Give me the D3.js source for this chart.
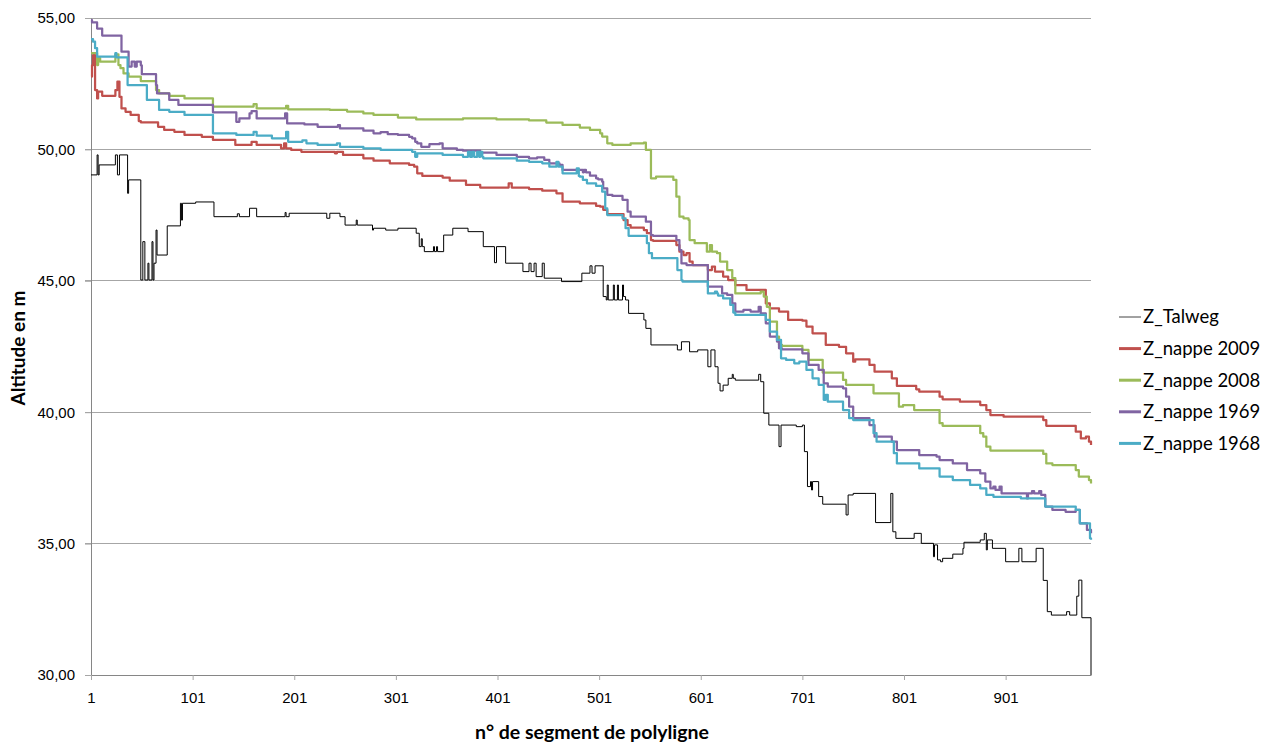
<!DOCTYPE html>
<html>
<head>
<meta charset="utf-8">
<script src="https://cdn.jsdelivr.net/npm/d3@7"></script>
<style>
  body { margin: 0; background: #fff; }
  svg { display: block; font-family: Lato, "Open Sans", sans-serif; }
  .tick text { fill: #000; }
</style>
</head>
<body>
<svg width="1276" height="744"></svg>
<script>
// values: [n° de segment, altitude] where the profile changes level
const talweg = [[1,49.03],[7,49.79],[8,49.03],[9,49.41],[25,49.79],[27,49.03],[29,49.79],[37,48.33],[38,48.84],[50,45.03],[52,46.49],[54,45.03],[57,45.67],[58,45.03],[61,46.49],[62,45.03],[63,45.67],[65,46.93],[66,45.98],[76,47.09],[89,47.95],[90,47.31],[91,47.95],[104,48.0],[122,47.44],[145,47.55],[147,47.44],[157,47.76],[164,47.44],[192,47.6],[193,47.44],[196,47.57],[233,47.38],[236,47.57],[246,47.44],[251,47.12],[262,47.31],[263,47.12],[278,46.93],[279,47.0],[291,46.93],[303,47.0],[321,46.81],[324,46.30],[326,46.6],[327,46.30],[329,46.11],[338,46.30],[339,46.11],[341,46.30],[342,46.11],[348,46.74],[357,47.0],[372,46.87],[387,46.30],[398,45.69],[400,46.30],[409,45.67],[426,45.35],[432,45.67],[434,45.35],[437,45.67],[439,45.16],[445,45.67],[447,45.10],[464,44.97],[484,45.29],[492,45.57],[494,45.29],[497,45.57],[505,44.40],[508,44.27],[509,44.84],[510,44.27],[515,44.84],[516,44.27],[519,44.84],[520,44.27],[524,44.84],[525,44.4],[527,44.27],[530,43.76],[545,43.51],[547,43.19],[552,42.56],[578,42.37],[582,42.68],[590,42.30],[598,42.37],[608,41.73],[611,42.37],[615,41.73],[618,41.10],[620,40.81],[623,41.03],[628,41.29],[632,41.44],[633,41.29],[635,41.22],[658,41.44],[660,41.16],[663,39.96],[668,39.51],[678,38.69],[680,39.51],[695,39.45],[701,39.51],[703,38.5],[706,37.17],[709,37.36],[710,37.04],[711,37.36],[717,36.79],[721,36.50],[744,36.09],[746,36.85],[751,36.91],[773,35.80],[788,36.91],[790,35.45],[793,35.20],[811,35.39],[818,35.01],[830,34.50],[831,34.95],[834,34.38],[837,34.31],[839,34.44],[849,34.60],[859,34.82],[860,35.05],[876,35.14],[880,35.39],[882,34.76],[883,35.14],[888,34.82],[901,34.31],[914,34.82],[917,34.31],[931,34.82],[938,33.6],[942,32.41],[946,32.28],[961,32.41],[964,32.28],[971,33.0],[973,33.61],[976,32.18],[985,30.0]];

const nappe2009 = [[1,52.77],[2,53.2],[3,53.59],[5,52.26],[7,51.94],[8,52.20],[12,52.04],[25,52.26],[27,52.58],[29,52.0],[31,51.56],[35,51.43],[40,51.31],[48,51.08],[50,51.03],[67,50.86],[73,50.74],[83,50.67],[93,50.55],[110,50.48],[121,50.36],[143,50.17],[159,50.29],[164,50.17],[188,50.04],[191,50.23],[193,50.04],[198,49.98],[208,49.91],[241,49.85],[243,49.91],[249,49.79],[269,49.66],[279,49.57],[295,49.47],[314,49.41],[319,49.34],[322,49.09],[327,48.99],[347,48.93],[354,48.81],[370,48.65],[384,48.55],[412,48.71],[415,48.55],[432,48.49],[445,48.43],[459,48.33],[465,48.01],[482,47.95],[498,47.85],[502,47.82],[505,47.70],[509,47.54],[525,47.31],[529,47.12],[532,47.02],[545,46.93],[548,46.81],[552,46.55],[554,46.52],[577,46.36],[580,46.11],[584,45.98],[587,46.05],[590,45.73],[593,45.60],[608,45.41],[612,45.54],[615,45.35],[623,45.16],[628,45.03],[635,44.84],[646,44.65],[665,44.14],[669,43.95],[678,43.83],[687,43.51],[701,43.48],[705,43.26],[711,43.0],[724,42.56],[737,42.49],[744,42.24],[751,41.92],[753,42.01],[767,41.80],[772,41.54],[789,41.29],[794,41.0],[813,40.87],[816,40.78],[836,40.59],[839,40.49],[856,40.40],[876,40.27],[882,40.08],[886,39.89],[899,39.83],[938,39.70],[941,39.48],[970,39.26],[975,39.0],[980,39.07],[983,38.88],[985,38.75]];

const nappe2008 = [[1,53.66],[7,53.21],[8,53.47],[10,53.34],[25,53.62],[28,53.21],[30,53.09],[33,52.89],[38,52.77],[50,52.60],[65,52.26],[68,52.13],[78,52.04],[93,51.94],[121,51.63],[161,51.72],[164,51.56],[193,51.66],[195,51.52],[236,51.50],[253,51.44],[269,51.37],[279,51.31],[303,51.21],[321,51.14],[367,51.18],[400,51.14],[432,51.10],[449,51.02],[465,50.93],[482,50.83],[492,50.74],[502,50.61],[504,50.49],[509,50.23],[514,50.17],[532,50.23],[545,50.26],[547,49.98],[552,48.90],[557,48.96],[574,48.84],[577,48.20],[580,47.44],[584,47.38],[589,47.31],[590,46.55],[595,46.43],[607,46.11],[610,46.36],[612,46.11],[617,46.05],[620,45.73],[627,45.41],[632,45.10],[635,44.52],[660,44.59],[663,44.40],[666,44.01],[669,43.45],[676,42.88],[678,42.56],[681,42.52],[701,42.37],[707,41.99],[721,41.51],[741,41.23],[744,41.04],[771,40.72],[796,40.21],[800,40.27],[811,40.08],[836,39.58],[839,39.48],[876,39.20],[879,39.07],[882,38.69],[886,38.54],[938,38.41],[941,38.05],[947,37.99],[970,37.80],[973,37.55],[983,37.42],[985,37.29]];

const nappe1969 = [[1,54.92],[2,54.83],[7,54.6],[12,54.33],[31,53.72],[38,53.15],[41,53.34],[44,53.15],[46,53.34],[50,53.2],[51,52.86],[65,52.45],[66,52.13],[78,51.88],[87,51.69],[121,51.41],[144,51.05],[147,51.18],[157,51.37],[159,51.46],[164,51.18],[192,51.37],[194,50.99],[211,50.95],[224,50.86],[244,50.92],[246,50.80],[269,50.71],[279,50.61],[286,50.66],[293,50.58],[303,50.55],[314,50.48],[317,50.42],[320,50.29],[322,50.23],[326,50.10],[334,50.2],[344,50.23],[347,50.04],[361,49.98],[367,49.95],[384,49.88],[400,49.79],[420,49.72],[432,49.66],[440,49.70],[447,49.60],[452,49.47],[462,49.41],[465,49.22],[485,49.13],[486,49.22],[488,49.13],[492,49.0],[498,48.9],[500,48.86],[504,48.77],[505,48.52],[509,48.27],[514,48.23],[524,48.08],[529,47.63],[532,47.44],[547,47.25],[552,46.74],[554,46.71],[577,46.55],[580,46.17],[582,45.66],[587,45.60],[608,44.78],[622,44.52],[627,44.46],[632,44.14],[635,43.83],[643,43.89],[650,43.83],[658,44.01],[660,43.76],[665,43.38],[669,42.88],[676,42.69],[678,42.43],[681,42.39],[701,42.24],[707,41.80],[717,41.61],[722,41.10],[726,40.97],[741,40.91],[744,40.59],[747,40.21],[751,39.77],[767,39.51],[772,39.07],[789,38.88],[794,38.56],[816,38.37],[833,38.31],[836,38.18],[849,38.05],[863,37.80],[876,37.67],[881,37.36],[886,37.10],[889,37.17],[891,37.04],[895,37.17],[897,36.91],[922,36.72],[923,36.91],[927,37.0],[929,36.91],[934,37.0],[936,36.85],[940,36.41],[947,36.28],[960,36.21],[970,36.28],[974,35.77],[981,35.52],[985,35.39]];

const nappe1968 = [[1,54.2],[3,54.1],[5,53.85],[7,53.53],[25,53.66],[26,53.5],[37,52.45],[56,51.88],[68,51.50],[78,51.43],[93,51.31],[121,50.61],[144,50.55],[161,50.67],[164,50.52],[179,50.42],[193,50.67],[195,50.29],[209,50.34],[213,50.23],[224,50.17],[243,50.23],[246,50.10],[269,50.04],[286,49.98],[317,49.91],[320,49.72],[322,49.85],[347,49.79],[367,49.72],[372,49.91],[374,49.72],[376,49.91],[378,49.72],[381,49.91],[383,49.72],[384,49.91],[386,49.72],[387,49.66],[420,49.57],[432,49.53],[445,49.47],[452,49.34],[459,49.53],[461,49.34],[465,49.09],[479,49.28],[481,48.99],[482,48.96],[485,48.84],[489,48.71],[498,48.61],[504,48.39],[507,47.76],[509,47.50],[524,47.38],[527,47.0],[530,46.71],[548,46.43],[550,46.05],[553,45.86],[578,45.41],[582,45.03],[583,44.97],[608,44.52],[615,44.59],[617,44.52],[618,44.44],[623,44.33],[630,44.08],[633,43.79],[635,43.70],[665,43.51],[669,43.07],[676,42.75],[680,42.05],[685,41.99],[693,41.86],[698,41.92],[705,41.61],[711,41.29],[717,41.04],[722,40.47],[724,40.66],[726,40.40],[741,40.08],[747,39.77],[751,39.70],[771,39.20],[774,38.88],[791,38.44],[794,38.05],[816,37.86],[836,37.55],[849,37.42],[866,37.23],[876,37.10],[882,36.85],[889,36.78],[916,36.72],[940,36.41],[970,36.28],[974,35.77],[984,35.20],[985,35.15]];

const segmentTicks = [1, 101, 201, 301, 401, 501, 601, 701, 801, 901];
const altitudeTicks = [30, 35, 40, 45, 50, 55];
const lastSegment = 985;

const series = [
  { name: "Z_Talweg", data: talweg, color: "#000000", width: 1 },
  { name: "Z_nappe 2009", data: nappe2009, color: "#C0504D", width: 2.25 },
  { name: "Z_nappe 2008", data: nappe2008, color: "#9BBB59", width: 2.25 },
  { name: "Z_nappe 1969", data: nappe1969, color: "#8064A2", width: 2.25 },
  { name: "Z_nappe 1968", data: nappe1968, color: "#4BACC6", width: 2.25 }
];

const svg = d3.select("svg");
const plotLeft = 91, plotRight = 1091, plotTop = 18, plotBottom = 675;

const x = d3.scaleLinear().domain([1, lastSegment]).range([plotLeft, plotRight]);
const y = d3.scaleLinear().domain([30, 55]).range([plotBottom, plotTop]);
const fmt = d => d.toFixed(2).replace(".", ",");

// gridlines
svg.append("g")
  .selectAll("line")
  .data(altitudeTicks)
  .enter().append("line")
  .attr("x1", plotLeft - 6).attr("x2", plotRight)
  .attr("y1", d => y(d)).attr("y2", d => y(d))
  .attr("stroke", "#a6a6a6").attr("stroke-width", 1)
  .attr("shape-rendering", "crispEdges");

// y axis
const yAxis = svg.append("g")
  .attr("transform", `translate(${plotLeft},0)`)
  .call(d3.axisLeft(y).tickValues(altitudeTicks).tickFormat(fmt).tickSize(6).tickSizeOuter(0).tickPadding(10));
yAxis.select(".domain").attr("stroke", "#868686");
yAxis.selectAll(".tick line").attr("stroke", "#a6a6a6");
yAxis.selectAll("text").attr("font-size", 15);

// x axis
const xAxis = svg.append("g")
  .attr("transform", `translate(0,${plotBottom})`)
  .call(d3.axisBottom(x).tickValues(segmentTicks).tickFormat(d3.format("d")).tickSize(5).tickSizeOuter(0).tickPadding(12));
xAxis.select(".domain").attr("stroke", "#868686");
xAxis.selectAll(".tick line").attr("stroke", "#a6a6a6");
xAxis.selectAll("text").attr("font-size", 15);

// lines
const line = d3.line()
  .x(d => x(d[0]))
  .y(d => y(d[1]))
  .curve(d3.curveStepAfter);

svg.append("g")
  .selectAll("path")
  .data(series)
  .enter().append("path")
  .attr("d", d => line(d.data))
  .attr("fill", "none")
  .attr("stroke", d => d.color)
  .attr("stroke-width", d => d.width)
  .attr("stroke-linejoin", "round");

// axis titles
svg.append("text")
  .attr("x", 592).attr("y", 739)
  .attr("text-anchor", "middle")
  .attr("font-size", 19.5).attr("font-weight", "bold")
  .text("n° de segment de polyligne");

svg.append("text")
  .attr("transform", "translate(25,348) rotate(-90)")
  .attr("text-anchor", "middle")
  .attr("font-size", 19).attr("font-weight", "bold")
  .text("Altitude en m");

// legend
const legend = svg.append("g")
  .selectAll("g")
  .data(series)
  .enter().append("g")
  .attr("transform", (d, i) => `translate(1119,${317 + i * 31.6})`);

legend.append("line")
  .attr("x1", 0).attr("x2", 22)
  .attr("stroke", d => d.name === "Z_Talweg" ? "#444" : d.color)
  .attr("stroke-width", d => d.name === "Z_Talweg" ? 1 : 3);

legend.append("text")
  .attr("x", 24).attr("dy", "0.35em")
  .attr("font-size", 18.5)
  .text(d => d.name);
</script>
</body>
</html>
